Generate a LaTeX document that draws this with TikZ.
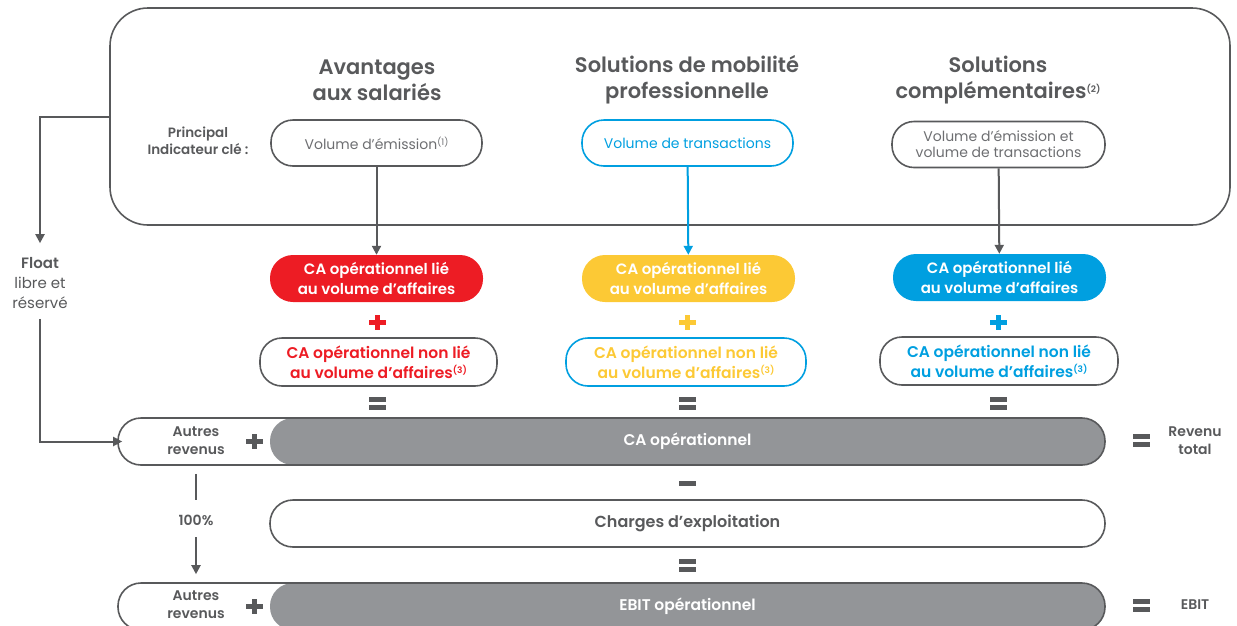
\documentclass[tikz,border=0pt]{standalone}
\usepackage{fontspec}
\setmainfont{Poppins}[BoldFont={Poppins SemiBold}]
\usetikzlibrary{arrows.meta,positioning}

\definecolor{txtgray}{HTML}{58595B}
\definecolor{lightgray}{HTML}{6D6E71}
\definecolor{boxgray}{HTML}{939598}
\definecolor{brandred}{HTML}{ED1C24}
\definecolor{brandyellow}{HTML}{FCC935}
\definecolor{brandblue}{HTML}{009FE0}

\newcommand\fnref[1]{\raisebox{0.55ex}{\fontsize{9}{9}\selectfont#1}}

\tikzset{
  pill/.style={draw=txtgray, line width=1.6pt, rounded corners=22pt, align=center,
    inner sep=0pt, minimum height=46pt},
  colpill/.style={fill=#1, rounded corners=23pt, align=center, inner sep=0pt,
    minimum width=213pt, minimum height=47pt, text=white,
    font=\fontsize{15}{20}\selectfont\bfseries},
  bar/.style={rounded corners=23pt, inner sep=0pt, minimum height=47pt},
  lbl/.style={align=center, inner sep=0pt, text=txtgray},
  conn/.style={line width=2pt, draw=txtgray},
  arr/.style={conn, -{Triangle[width=9pt,length=9pt]}},
  plussign/.pic={\fill (-8.5,-2.5) rectangle (8.5,2.5); \fill (-2.5,-7.5) rectangle (2.5,7.5);},
  eqsign/.pic={\fill (-8.5,-6.5) rectangle (8.5,-1.5); \fill (-8.5,1.5) rectangle (8.5,6.5);},
  minussign/.pic={\fill (-8.5,-2.5) rectangle (8.5,2.5);}
}

\begin{document}
\begin{tikzpicture}[x=1pt,y=-1pt]
    \useasboundingbox (0,0) rectangle (1237,625);

    % top frame with the three activities
    \node[draw=txtgray, line width=1.6pt, rounded corners=38pt, minimum width=1120pt,
          minimum height=217pt] (frame) at (670,116.5) {};
    \node[lbl, font=\fontsize{21}{26}\selectfont\bfseries] (title1) at (377,80) {Avantages\\aux salariés};
    \node[lbl, font=\fontsize{21}{26}\selectfont\bfseries] (title2) at (687,80) {Solutions de mobilité\\professionnelle};
    \node[lbl, font=\fontsize{21}{26}\selectfont\bfseries] (title3) at (998,80) {Solutions\\complémentaires\fnref{(2)}};
    \node[lbl, font=\fontsize{13.5}{17}\selectfont\bfseries] (key) at (198,141) {Principal\\Indicateur clé :};

    \node[pill, minimum width=211pt, text=lightgray, font=\fontsize{14}{16}\selectfont] (ind1) at (376.5,143) {Volume d’émission\fnref{(1)}};
    \node[pill, draw=brandblue, minimum width=211pt, text=brandblue, font=\fontsize{14}{16}\selectfont] (ind2) at (687.5,143) {Volume de transactions};
    \node[pill, minimum width=213pt, text=lightgray, font=\fontsize{14}{16}\selectfont] (ind3) at (998.5,144.5) {Volume d’émission et\\volume de transactions};

    % operational revenue linked to business volume
    \node[colpill=brandred] (lie1) at (376.5,278.5) {CA opérationnel lié\\au volume d’affaires};
    \node[colpill=brandyellow] (lie2) at (688.5,278.5) {CA opérationnel lié\\au volume d’affaires};
    \node[colpill=brandblue] (lie3) at (999.5,277.5) {CA opérationnel lié\\au volume d’affaires};

    \draw[arr] (ind1) -- (lie1);
    \draw[arr, draw=brandblue] (ind2) -- (lie2);
    \draw[arr] (ind3) -- (lie3);

    \pic[brandred] at (377,322) {plussign};
    \pic[brandyellow] at (687,322) {plussign};
    \pic[brandblue] at (998,322) {plussign};

    % not linked
    \node[pill, minimum width=237pt, minimum height=48pt, text=brandred, font=\fontsize{15.5}{20}\selectfont\bfseries] (non1) at (378.5,362) {CA opérationnel non lié\\au volume d’affaires\fnref{(3)}};
    \node[pill, draw=brandblue, minimum width=240pt, minimum height=48pt, text=brandyellow, font=\fontsize{15.5}{20}\selectfont\bfseries] (non2) at (686,362) {CA opérationnel non lié\\au volume d’affaires\fnref{(3)}};
    \node[pill, minimum width=238pt, minimum height=48pt, text=brandblue, font=\fontsize{15.5}{20}\selectfont\bfseries] (non3) at (999,361) {CA opérationnel non lié\\au volume d’affaires\fnref{(3)}};

    \pic[txtgray] at (377,403) {eqsign};
    \pic[txtgray] at (687,403) {eqsign};
    \pic[txtgray] at (998,403) {eqsign};

    % total revenue row
    \node[bar, fill=boxgray, minimum width=835pt, text=white, font=\fontsize{15.5}{18}\selectfont\bfseries] (caop) at (687.5,441.5) {CA opérationnel};
    \node[bar, draw=txtgray, line width=1.6pt, minimum width=987pt] (row1) at (611.5,441.5) {};
    \node[lbl, font=\fontsize{14}{18}\selectfont\bfseries] (autres1) at (196,441) {Autres\\revenus};
    \pic[txtgray] at (254,441) {plussign};
    \pic[txtgray] at (1141,440) {eqsign};
    \node[lbl, font=\fontsize{14}{18}\selectfont\bfseries] (revtot) at (1195,441) {Revenu\\total};

    \pic[txtgray] at (687,483) {minussign};

    \node[bar, draw=txtgray, line width=1.6pt, minimum width=835pt, text=txtgray, font=\fontsize{16}{18}\selectfont\bfseries] (charges) at (687.5,523.5) {Charges d’exploitation};

    \pic[txtgray] at (687,565) {eqsign};

    % EBIT row
    \node[bar, fill=boxgray, minimum width=835pt, text=white, font=\fontsize{15.5}{18}\selectfont\bfseries] (ebitop) at (687.5,606.5) {EBIT opérationnel};
    \node[bar, draw=txtgray, line width=1.6pt, minimum width=987pt] (row3) at (611.5,606.5) {};
    \node[lbl, font=\fontsize{14}{18}\selectfont\bfseries] (autres3) at (196,605) {Autres\\revenus};
    \pic[txtgray] at (254,606) {plussign};
    \pic[txtgray] at (1141,605) {eqsign};
    \node[lbl, font=\fontsize{14}{18}\selectfont\bfseries] (ebit) at (1195,605) {EBIT};

    % float on the left
    \node[lbl, font=\fontsize{15}{20}\selectfont] (float) at (40,283) {\textbf{Float}\\libre et\\réservé};
    \draw[arr, shorten >=14pt] (frame.west) -| (float.north);
    \draw[arr, shorten <=10pt] (float.south) |- ([xshift=5pt]row1.west);

    \node[lbl, font=\fontsize{14}{18}\selectfont\bfseries] (pct) at (196,520) {100\%};
    \draw[conn, shorten <=8pt, shorten >=15pt] (row1.south -| pct) -- (pct.north);
    \draw[arr, shorten <=12pt, shorten >=8pt] (pct.south) -- (row3.north -| pct);
\end{tikzpicture}
\end{document}
